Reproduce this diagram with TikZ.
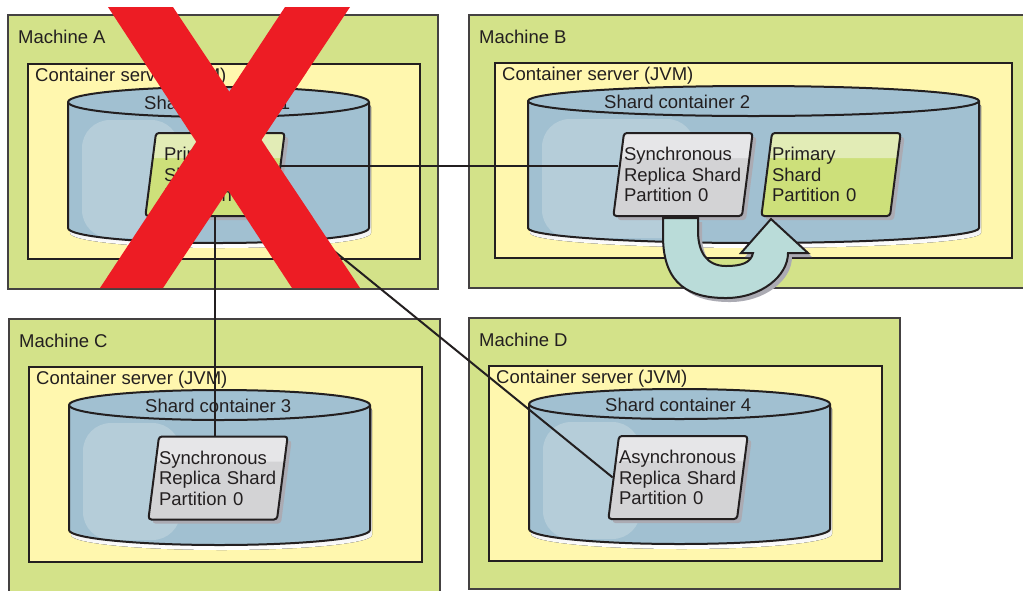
\documentclass[tikz,border=0pt]{standalone}
\usepackage{fontspec}
\setmainfont{Liberation Sans}
\usepackage{xcolor}
\usetikzlibrary{shapes.geometric, shadows, calc, positioning}

\definecolor{machine}{HTML}{D3E289}
\definecolor{jvm}{HTML}{FFF7AE}
\definecolor{cyl}{HTML}{A1C0D1}
\definecolor{cylhi}{HTML}{B5CDD9}
\definecolor{replica}{HTML}{D3D3D5}
\definecolor{replicahi}{HTML}{E6E6E8}
\definecolor{primary}{HTML}{CDE07A}
\definecolor{primaryhi}{HTML}{E2ECB6}
\definecolor{promote}{HTML}{BADCD9}
\definecolor{shade}{HTML}{ABABB3}
\definecolor{ink}{HTML}{231F20}
\definecolor{cross}{HTML}{ED1C24}

\tikzset{
  machinebox/.style={fill=machine, draw=ink!85, line width=1.8pt},
  jvmbox/.style={fill=jvm, draw=ink, line width=2.4pt},
  boxtext/.style={anchor=west, inner sep=0pt, text=ink, font=\fontsize{18.5}{20.5}\selectfont},
  shard/.style={trapezium, trapezium left angle=79, trapezium right angle=101,
    trapezium stretches body=true, minimum height=83pt, text width=118pt,
    inner xsep=0pt, inner ysep=0pt, align=left, draw=ink, line width=2pt,
    rounded corners=3pt, text=ink, font=\fontsize{18.5}{20.5}\selectfont,
    drop shadow={shadow xshift=4pt, shadow yshift=-4pt, fill=shade, opacity=1}},
  replicashard/.style={shard, fill=replica, path picture={
    \fill[replicahi] (path picture bounding box.north west) rectangle ($(path picture bounding box.north east)+(0,-25pt)$);}},
  primaryshard/.style={shard, fill=primary, path picture={
    \fill[primaryhi] (path picture bounding box.north west) rectangle ($(path picture bounding box.north east)+(0,-25pt)$);}},
  link/.style={draw=ink, line width=2pt}
}

\begin{document}
\begin{tikzpicture}[x=1pt, y=1pt]
  \useasboundingbox (0,0) rectangle (1023,-590);
  \clip (0,0) rectangle (1023,-590);

  % Machines
  \foreach \n/\x/\y/\X/\Y in {A/8/15/438/289, B/469/15/1040/288, C/9/319/440/600, D/469/318/900/589} {
    \draw[machinebox] (\x,-\y) rectangle (\X,-\Y);
    \node[boxtext] (m\n) at ({\x+10},{-\y-22}) {Machine \n};
  }

  % Container servers
  \foreach \n/\x/\y/\X/\Y in {A/28/64/420/259, B/495/63/1012/258, C/29/367/422/562, D/489/366/882/561} {
    \draw[jvmbox] (\x,-\y) rectangle (\X,-\Y);
    \node[boxtext] (jvm\n) at ({\x+7},{-\y-13}) {Container server (JVM)};
  }

  % Shard containers
  \foreach \L/\R/\yt/\yb/\n in {68/369/102/228/1, 528/979/101/228/2, 69/370/405/530/3, 529/830/404/529/4} {
    \pgfmathsetmacro\rx{(\R-\L)/2}
    \def\cylpath{(\L,-\yt) -- (\L,-\yb) arc[start angle=180, end angle=360, x radius=\rx, y radius=15]
      -- (\R,-\yt) arc[start angle=0, end angle=180, x radius=\rx, y radius=15] -- cycle}
    \fill[shade, shift={(2,-5)}] \cylpath;
    \fill[cyl] \cylpath;
    \begin{scope}
      \clip \cylpath;
      \fill[cylhi, rounded corners=28pt] ({\L+14},{-\yt-18}) rectangle ({\L+0.37*(\R-\L)},{-\yb-10});
    \end{scope}
    \draw[ink, line width=2pt] \cylpath;
    \draw[ink, line width=2pt] (\L,-\yt) arc[start angle=180, end angle=360, x radius=\rx, y radius=15];
    \node[boxtext] (sc\n) at ({\L+76},{-\yt-1}) {Shard container \n};
  }

  % Shards
  \node[primaryshard] (pA) at (215,-174.5) {\hspace*{8pt}Primary\\\hspace*{8pt}Shard\\\hspace*{8pt}Partition 0};
  \node[replicashard] (rB) at (683,-174.5) {Synchronous\\Replica Shard\\Partition 0};
  \node[primaryshard] (pB) at (831,-174.5) {Primary\\Shard\\Partition 0};
  \node[replicashard] (rC) at (218,-478) {Synchronous\\Replica Shard\\Partition 0};
  \node[replicashard] (rD) at (678,-477.5) {Asynchronous\\Replica Shard\\Partition 0};

  % Replication links
  \draw[link] ($(pA.east)+(0,9)$) -- ($(rB.west)+(0,9)$);
  \draw[link] (pA.south) -- (pA.south |- rC.north);
  \draw[link] ($(pA.bottom right corner)!0.15!(pA.top right corner)$) -- (rD.west);

  % Promotion arrow
  \draw[ink, line width=2pt, fill=promote, shift={(rB.south)},
        drop shadow={shadow xshift=4pt, shadow yshift=-4pt, fill=shade, opacity=1}]
    (-20,-1) -- (-20,-19) .. controls (-20,-69) and (8,-81) .. (43,-81)
    .. controls (78,-81) and (105,-59) .. (105,-36) -- (125,-36) -- (88,-2) -- (58,-36)
    -- (70,-36) .. controls (68,-46) and (58,-49) .. (43,-49)
    .. controls (23,-49) and (15,-34) .. (15,-14) -- (15,-1) -- cycle;

  % Failed machine
  \fill[cross] (108,-7) -- (173,-7) -- (360,-288) -- (292,-288) -- cycle;
  \fill[cross] (285,-7) -- (350,-7) -- (163,-288) -- (100,-288) -- cycle;
\end{tikzpicture}
\end{document}
